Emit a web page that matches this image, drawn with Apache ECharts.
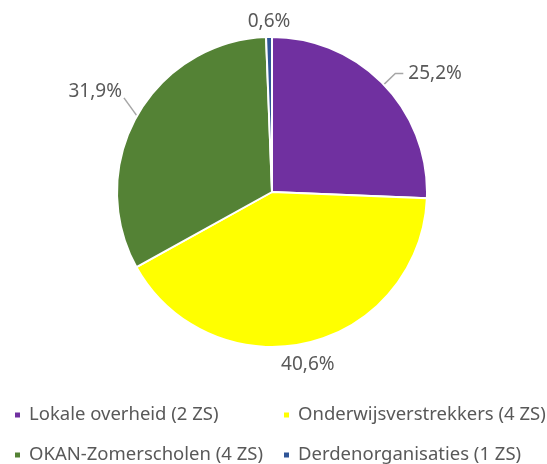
<!DOCTYPE html>
<html>
<head>
<meta charset="utf-8">
<script src="https://cdn.jsdelivr.net/npm/echarts@6/dist/echarts.min.js"></script>
<style>
  html, body { margin: 0; padding: 0; background: #fff; }
  #main { width: 547px; height: 464px; }
</style>
</head>
<body>
<div id="main"></div>
<script>
var categories = ['Lokale overheid (2 ZS)', 'Onderwijsverstrekkers (4 ZS)', 'OKAN-Zomerscholen (4 ZS)', 'Derdenorganisaties (1 ZS)'];
var values = [25.2, 40.6, 31.9, 0.6];
var colors = ['#7030A0', '#FFFF00', '#548235', '#2F5597'];

var myChart = echarts.init(document.getElementById('main'));

var pieData = categories.map(function (name, i) {
    var item = { name: name, value: values[i], itemStyle: { color: colors[i] } };
    if (i === 1 || i === 3) {
        item.labelLine = { show: false };
    }
    return item;
});

// legend laid out as 2 x 2 grid, one legend component per cell
var legendLeft = [13, 282, 13, 282];
var legendTop = [405, 405, 445, 445];
var legends = categories.map(function (name, i) {
    return {
        data: [name],
        left: legendLeft[i],
        top: legendTop[i],
        padding: 0,
        itemWidth: 7,
        itemHeight: 7,
        icon: 'rect',
        textStyle: {
            fontFamily: 'Noto Sans', fontSize: 18.5, lineHeight: 20,
            color: '#595959', padding: [0, 0, 0, 3]
        }
    };
});

var option = {
    animation: false,
    legend: legends,
    series: [{
        type: 'pie',
        center: [272, 192],
        radius: 155,
        startAngle: 90,
        clockwise: true,
        data: pieData,
        itemStyle: { borderColor: '#fff', borderWidth: 2 },
        label: {
            show: true,
            position: 'outside',
            fontFamily: 'Noto Sans',
            fontSize: 19,
            color: '#595959',
            formatter: function (p) {
                return p.value.toFixed(1).replace('.', ',') + '%';
            }
        },
        labelLine: {
            show: true,
            length: 16,
            length2: 8,
            lineStyle: { color: '#a6a6a6', width: 1.5 }
        },
        labelLayout: function (params) {
            var pt = params.labelLinePoints && params.labelLinePoints[0];
            if (!pt) return {};
            if (params.dataIndex === 1) {
                return { x: pt[0], y: pt[1] + 22, align: 'center', verticalAlign: 'middle' };
            }
            if (params.dataIndex === 3) {
                return { x: pt[0], y: pt[1] - 15, align: 'center', verticalAlign: 'middle' };
            }
            if (params.dataIndex === 2) {
                return {
                    x: pt[0] - 15, y: pt[1] - 24, align: 'right', verticalAlign: 'middle',
                    labelLinePoints: [pt, [pt[0] - 13, pt[1] - 18], [pt[0] - 13, pt[1] - 18]]
                };
            }
            return {};
        },
        emphasis: { disabled: true }
    }]
};

myChart.setOption(option);
</script>
</body>
</html>
